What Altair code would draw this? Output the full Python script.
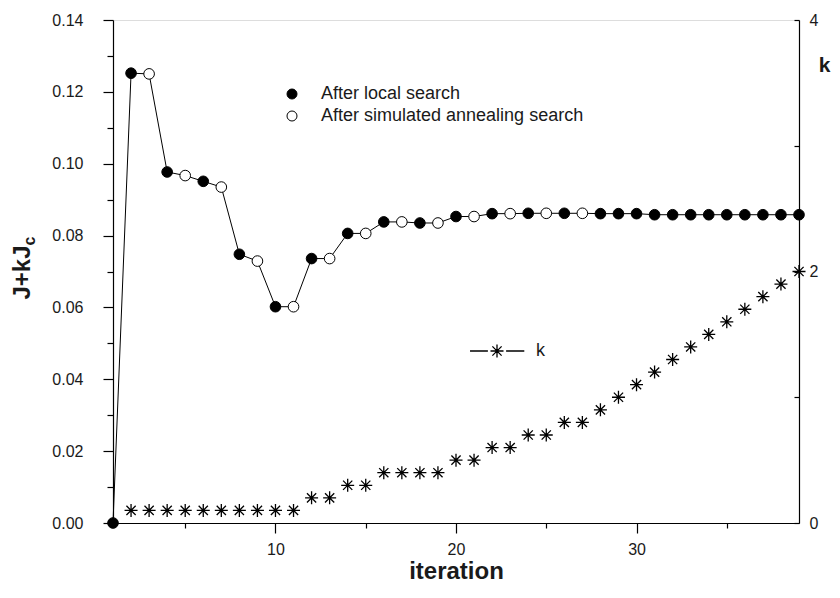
import altair as alt
import pandas as pd

# ---- data ----
iterations = list(range(1, 40))
j_values = [0.0000, 0.1252, 0.1250, 0.0977, 0.0967, 0.0951, 0.0935, 0.0748, 0.0729, 0.0602,
            0.0602, 0.0736, 0.0736, 0.0806, 0.0806, 0.0838, 0.0838, 0.0835, 0.0835, 0.0853,
            0.0853, 0.0861, 0.0861, 0.0862, 0.0862, 0.0862, 0.0862, 0.0861, 0.0861, 0.0861,
            0.0858, 0.0858, 0.0858, 0.0858, 0.0858, 0.0858, 0.0858, 0.0858, 0.0858]
LS = "After local search"
SA = "After simulated annealing search"
stages = [LS, LS, SA, LS, SA, LS, SA, LS, SA, LS,
          SA, LS, SA, LS, SA, LS, SA, LS, SA, LS,
          SA, LS, SA, LS, SA, LS, SA, LS, LS, LS,
          LS, LS, LS, LS, LS, LS, LS, LS, LS]

k_iterations = list(range(2, 40))
k_values = [0.1, 0.1, 0.1, 0.1, 0.1, 0.1, 0.1, 0.1, 0.1, 0.1,
            0.2, 0.2, 0.3, 0.3, 0.4, 0.4, 0.4, 0.4, 0.5, 0.5,
            0.6, 0.6, 0.7, 0.7, 0.8, 0.8, 0.9, 1.0, 1.1, 1.2,
            1.3, 1.4, 1.5, 1.6, 1.7, 1.8, 1.9, 2.0]

x_ticks = [5, 10, 15, 20, 25, 30, 35]
j_ticks = [0.00, 0.01, 0.02, 0.03, 0.04, 0.05, 0.06, 0.07, 0.08, 0.09, 0.10, 0.11, 0.12, 0.13, 0.14]
k_ticks = [0, 1, 2, 3, 4]

df = pd.DataFrame({"iteration": iterations, "J": j_values, "stage": stages})
dk = pd.DataFrame({"iteration": k_iterations, "k": k_values, "series": ["k"] * len(k_iterations)})

FONT = "Liberation Sans"
TXT = "#1a1a1a"
STAR = "M0,-1L0,1M-1,0L1,0M-0.71,-0.71L0.71,0.71M-0.71,0.71L0.71,-0.71"
STAR_LEG = "M-4.15,0L-1.4,0M1.4,0L4.2,0" + STAR

x_enc = alt.X(
    "iteration:Q",
    scale=alt.Scale(domain=[1, 39], nice=False, zero=False),
    axis=alt.Axis(
        values=x_ticks,
        labelExpr="datum.value % 10 === 0 ? datum.label : ''",
        tickSize={"condition": {"test": "datum.value % 10 === 0", "value": 10}, "value": 5},
        grid=False,
        domainColor="black", tickColor="black", domainWidth=1.2, tickWidth=1.2,
        labelFont=FONT, labelFontSize=16, labelColor=TXT, labelPadding=8,
        title="iteration", titleFont=FONT, titleFontSize=24, titleFontWeight="bold",
        titleColor=TXT, titleBaseline="alphabetic", titleY=55,
    ),
)

y_j = alt.Y(
    "J:Q",
    scale=alt.Scale(domain=[0, 0.14], nice=False),
    axis=alt.Axis(
        values=j_ticks,
        labelExpr="round(datum.value * 100) % 2 === 0 ? format(datum.value, '.2f') : ''",
        tickSize={"condition": {"test": "round(datum.value * 100) % 2 === 0", "value": 10}, "value": 6},
        grid=False,
        domainColor="black", tickColor="black", domainWidth=1.2, tickWidth=1.2,
        labelFont=FONT, labelFontSize=16, labelColor=TXT, labelPadding=20,
        title="J+kJ", titleFont=FONT, titleFontSize=24, titleFontWeight="bold",
        titleColor=TXT, titleAngle=270, titleAlign="center", titleBaseline="middle",
        titleX=-91, titleY=252,
    ),
)

y_k = alt.Y(
    "k:Q",
    scale=alt.Scale(domain=[0, 4], nice=False),
    axis=alt.Axis(
        orient="right",
        values=k_ticks,
        labelExpr="datum.value % 2 === 0 ? datum.label : ''",
        tickSize=alt.ExprRef("-5"),
        grid=False,
        domainColor="black", tickColor="black", domainWidth=1.2, tickWidth=1.2,
        labelFont=FONT, labelFontSize=16, labelColor=TXT, labelPadding=15,
        title="k", titleFont=FONT, titleFontSize=21, titleFontWeight="bold",
        titleColor=TXT, titleAngle=0, titleAlign="center", titleBaseline="middle",
        titleX=25, titleY=45,
    ),
)

line = alt.Chart(df).mark_line(color="black", strokeWidth=1).encode(x=x_enc, y=y_j)

pts = alt.Chart(df).mark_point(
    shape="circle", filled=True, size=113, stroke="black", strokeWidth=1, opacity=1
).encode(
    x=x_enc,
    y=y_j,
    fill=alt.Fill(
        "stage:N",
        scale=alt.Scale(domain=[LS, SA], range=["black", "white"]),
        title=None,
        legend=alt.Legend(
            orient="none", legendX=170, legendY=65,
            symbolType="circle", symbolSize=100, symbolStrokeColor="black", symbolStrokeWidth=1,
            labelFont=FONT, labelFontSize=18, labelColor=TXT, labelOffset=20,
            labelLimit=0, rowPadding=4,
        ),
    ),
)

j_layer = alt.layer(line, pts)

kpts = alt.Chart(dk).mark_point(
    shape=STAR, size=169, filled=False, strokeWidth=1.3, opacity=1
).encode(
    x=x_enc,
    y=y_k,
    stroke=alt.Stroke(
        "series:N",
        scale=alt.Scale(domain=["k"], range=["black"]),
        title=None,
        legend=alt.Legend(
            orient="none", legendX=375, legendY=322,
            symbolType=STAR_LEG, symbolSize=169, symbolStrokeWidth=1.3,
            labelFont=FONT, labelFontSize=18, labelColor=TXT, labelOffset=30,
            labelLimit=0,
        ),
    ),
)

sub_c = alt.Chart(pd.DataFrame({"t": ["c"]})).mark_text(
    font=FONT, fontSize=16, fontWeight="bold", color=TXT, angle=270,
    align="center", baseline="middle",
).encode(x=alt.value(-83), y=alt.value(221), text="t:N")

chart = alt.layer(j_layer, kpts, sub_c).resolve_scale(y="independent").properties(
    width=686,
    height=503,
    padding={"left": 105, "top": 12, "right": 33, "bottom": 67},
    autosize=alt.AutoSizeParams(type="none"),
).configure_view(stroke=None).configure(background="white")

chart.save("out.html", embed_options={"renderer": "svg", "actions": False})
